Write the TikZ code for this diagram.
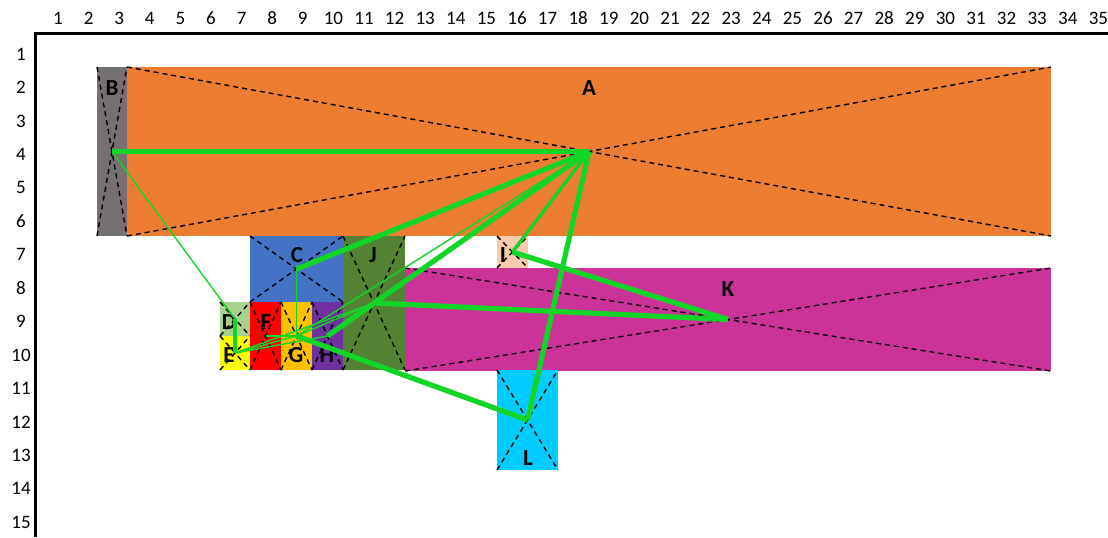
\documentclass[tikz,border=0pt]{standalone}
\usepackage{fontspec}
\setmainfont{Carlito}
\definecolor{cA}{HTML}{ED7D31}
\definecolor{cB}{HTML}{767171}
\definecolor{cC}{HTML}{4472C4}
\definecolor{cD}{HTML}{A9D18E}
\definecolor{cE}{HTML}{FFFF00}
\definecolor{cF}{HTML}{FF0000}
\definecolor{cG}{HTML}{FFC000}
\definecolor{cH}{HTML}{7030A0}
\definecolor{cI}{HTML}{F8CBAD}
\definecolor{cJ}{HTML}{548235}
\definecolor{cK}{HTML}{CC3399}
\definecolor{cL}{HTML}{00CCFF}
\definecolor{lk}{RGB}{17,214,40}
\begin{document}
\begin{tikzpicture}[x=0.5pt,y=-0.5pt,
  box/.style={rectangle,draw=none,inner sep=0pt,outer sep=0pt},
  diag/.style={dash pattern=on 2.5pt off 2pt,line width=0.7pt,black},
  lbl/.style={font=\fontsize{11.5}{12}\selectfont\bfseries,inner sep=0pt},
  ax/.style={font=\fontsize{9.5}{10}\selectfont,inner sep=0pt},
  lkthick/.style={draw=lk,line width=2.6pt},
  lkmed/.style={draw=lk,line width=1.7pt},
  lkthin/.style={draw=lk,line width=0.7pt}]
\useasboundingbox (0,0) rectangle (1108,537);
% axes
\draw[line width=1.5pt] (1108,33) -- (35,33) -- (35,537);
\foreach \k in {1,...,35} \node[ax] (col\k) at ({58+(\k-1)*30.6},18) {\k};
\foreach \r in {1,...,15} \node[ax] (row\r) at (21,{54+(\r-1)*33.45}) {\r};
% boxes
\node[box,fill=cA,minimum width=462pt,minimum height=84.5pt] (A) at (589,151.5) {};
\node[box,fill=cB,minimum width=15pt,minimum height=84.5pt] (B) at (112,151.5) {};
\node[box,fill=cC,minimum width=46.5pt,minimum height=33pt] (C) at (296.5,269) {};
\node[box,fill=cJ,minimum width=31pt,minimum height=67pt] (J) at (374,303) {};
\node[box,fill=cD,minimum width=15pt,minimum height=17pt] (D) at (235,319) {};
\node[box,fill=cE,minimum width=15pt,minimum height=17pt] (E) at (235,353) {};
\node[box,fill=cF,minimum width=15.5pt,minimum height=34pt] (F) at (265.5,336) {};
\node[box,fill=cG,minimum width=15.5pt,minimum height=34pt] (G) at (296.5,336) {};
\node[box,fill=cH,minimum width=15.5pt,minimum height=34pt] (H) at (327.5,336) {};
\node[box,fill=cI,minimum width=15.5pt,minimum height=16pt] (I) at (512.5,252) {};
\node[box,fill=cK,minimum width=323pt,minimum height=51.5pt] (K) at (728,319.5) {};
\node[box,fill=cL,minimum width=30.5pt,minimum height=50pt] (L) at (527.5,420) {};
% dashed diagonals
\foreach \n in {A,B,C,D,E,F,G,H,I,J,K,L}{
  \draw[diag] (\n.north west) -- (\n.south east);
  \draw[diag] (\n.south west) -- (\n.north east);
}
% labels
\node[lbl] (lA) at (589,88) {A};
\node[lbl] (lB) at (112,88) {B};
\node[lbl] (lC) at (297,255) {C};
\node[lbl] (lJ) at (373,255) {J};
\node[lbl] (lD) at (229,322) {D};
\node[lbl] (lE) at (229,355) {E};
\node[lbl] (lF) at (266,322) {F};
\node[lbl] (lG) at (296,355) {G};
\node[lbl] (lH) at (327,355) {H};
\node[lbl] (lI) at (503,255) {I};
\node[lbl] (lK) at (728,289) {K};
\node[lbl] (lL) at (528,458) {L};
% connectors
\draw[lkthin] (B.center) -- (D.center);
\draw[lkthin] (C.center) -- (G.center);
\draw[lkthin] (A.center) -- (G.center);
\draw[lkthin] (E.center) -- (G.center);
\draw[lkthin] (E.center) -- (J.center);
\draw[lkthin] (E.center) -- (H.center);
\draw[lkthin] (F.center) -- (G.center);
\draw[lkthin] (G.center) -- (J.center);
\draw[lkmed] (D.center) -- (E.center);
\draw[lkmed] (A.center) -- (I.center);
\draw[lkmed] (A.center) -- (J.center);
\draw[lkthick] (B.center) -- (A.center);
\draw[lkthick] (A.center) -- (C.center);
\draw[lkthick] (A.center) -- (H.center);
\draw[lkthick] (A.center) -- (L.center);
\draw[lkthick] (J.center) -- (K.center);
\draw[lkthick] (I.center) -- (K.center);
\draw[lkthick] (G.center) -- (L.center);
\end{tikzpicture}
\end{document}
